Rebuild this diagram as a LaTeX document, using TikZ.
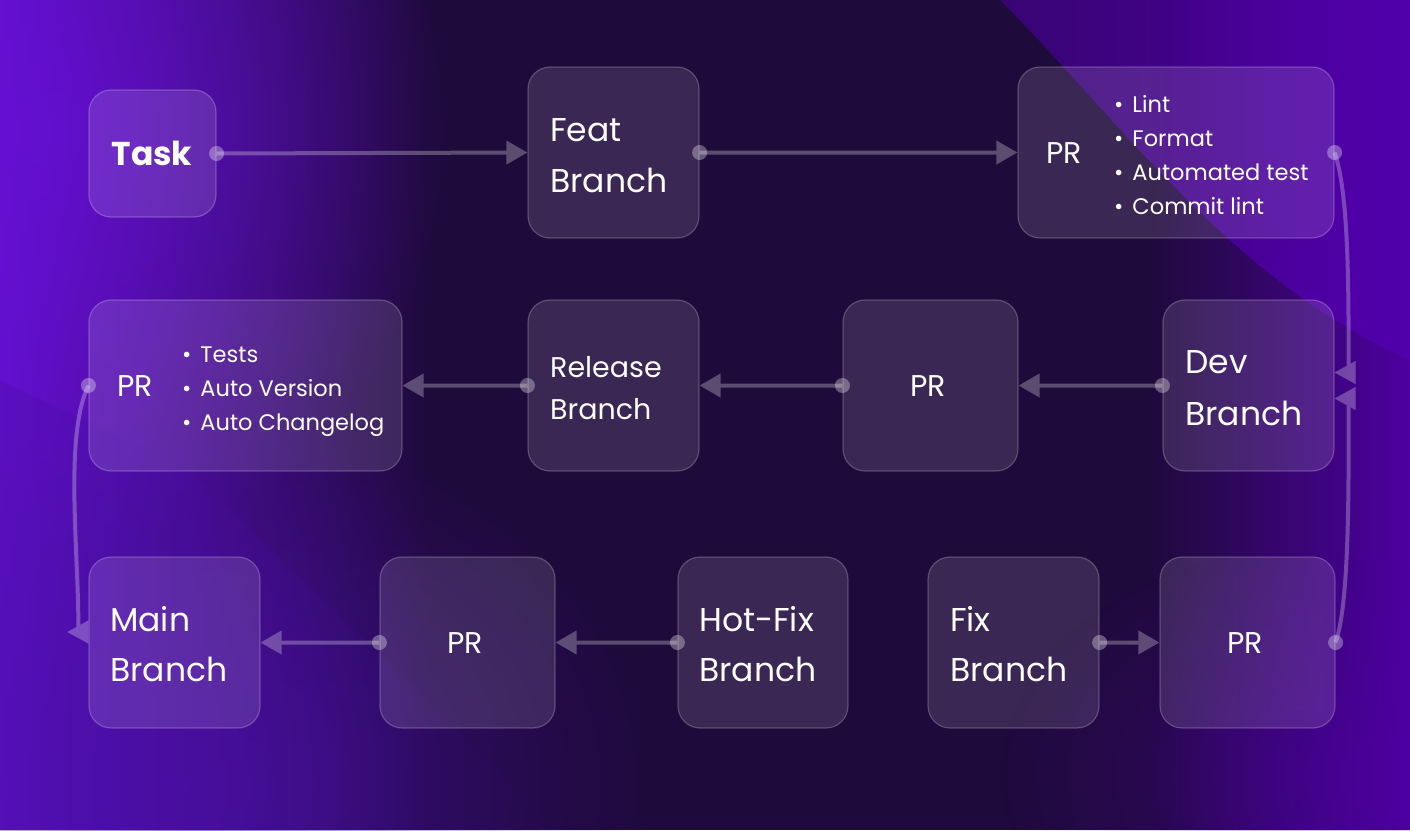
\documentclass[tikz,border=0pt]{standalone}
\usepackage{fontspec}
\setmainfont{Poppins}
\usetikzlibrary{arrows.meta,fadings,calc}
\tikzfading[name=fadeR, left color=transparent!0, right color=transparent!100]
\tikzfading[name=fadeL, left color=transparent!100, right color=transparent!0]
\tikzfading[name=glow, inner color=transparent!0, outer color=transparent!100]
\definecolor{bgbase}{HTML}{1F0A3C}
\definecolor{leftglow}{HTML}{6A10DC}
\definecolor{trglow}{HTML}{5200AC}
\definecolor{botglow}{HTML}{4A10A8}
\tikzset{
  box/.style={draw=white, draw opacity=0.22, fill=white, fill opacity=0.12,
    rounded corners=22pt, line width=1.2pt, inner sep=0pt},
  sq/.style={box, minimum width=171pt, minimum height=171pt},
  conn/.style={line width=4pt, white, -{Triangle[length=21pt,width=23pt]}},
  cline/.style={line width=4pt, white},
  tipl/.style={line width=0.1pt, white, -{Triangle[length=21pt,width=23pt]}},
  dotc/.style={white, opacity=0.32},
  big/.style={text=white, inner sep=0pt, anchor=base west, font=\fontsize{33}{40}\selectfont},
  mid/.style={text=white, inner sep=0pt, anchor=base west, font=\fontsize{28.5}{34}\selectfont},
  prl/.style={text=white, inner sep=0pt, font=\fontsize{30}{36}\selectfont},
  bul/.style={text=white, inner sep=0pt, anchor=base west, font=\fontsize{22.5}{26}\selectfont},
}
\newcommand{\bl}[1]{\textbullet\hspace{9pt}#1}
\begin{document}
\begin{tikzpicture}[x=1pt,y=-1pt]
\useasboundingbox (0,0) rectangle (1410,830);
% background
\fill[bgbase] (0,0) rectangle (1410,830);
\fill[leftglow, opacity=0.9, path fading=fadeR] (0,0) rectangle (430,830);
\fill[leftglow, opacity=0.55, path fading=glow] (-350,-300) rectangle (450,560);
\fill[botglow, opacity=0.6, path fading=glow] (-250,420) rectangle (650,1150);
\fill[botglow, opacity=0.35, path fading=fadeR] (0,380) -- (190,470) -- (560,830) -- (0,830) -- cycle;
\fill[trglow, opacity=0.75, path fading=fadeL] (1000,0) .. controls (1120,120) and (1230,280) .. (1410,360) -- (1410,0) -- cycle;
\fill[trglow, opacity=0.5] (1000,0) .. controls (1120,120) and (1230,280) .. (1410,360) -- (1410,0) -- cycle;
\fill[trglow, opacity=0.9, path fading=fadeL] (1150,0) rectangle (1410,830);
\fill[trglow, opacity=0.35, path fading=glow] (1000,550) rectangle (1600,1000);

% boxes
\node[box, minimum width=127pt, minimum height=127pt] (task) at (152.5,153.5) {};
\node[sq] (feat) at (613.5,152.5) {};
\node[box, minimum width=316pt, minimum height=171pt] (pra) at (1176,152.5) {};
\node[sq] (dev) at (1248.5,385.5) {};
\node[box, minimum width=175pt, minimum height=171pt] (prb) at (930.5,385.5) {};
\node[sq] (rel) at (613.5,385.5) {};
\node[box, minimum width=313pt, minimum height=171pt] (prc) at (245.5,385.5) {};
\node[sq] (mainb) at (174.5,642.5) {};
\node[box, minimum width=175pt, minimum height=171pt] (prd) at (467.5,642.5) {};
\node[box, minimum width=170pt, minimum height=171pt] (hot) at (763,642.5) {};
\node[sq] (fix) at (1013.5,642.5) {};
\node[box, minimum width=175pt, minimum height=171pt] (pre) at (1247.5,642.5) {};

% texts
\node[text=white, inner sep=0pt, font=\fontsize{33}{38}\selectfont\bfseries] (ttask) at (152,153) {Task};
\node[big] (tfeat1) at (550,141) {Feat};
\node[big] (tfeat2) at (550,192) {Branch};
\node[big] (tdev1) at (1185,373) {Dev};
\node[big] (tdev2) at (1185,425) {Branch};
\node[mid] (trel1) at (550,377) {Release};
\node[mid] (trel2) at (550,419) {Branch};
\node[big] (tmain1) at (110,631) {Main};
\node[big] (tmain2) at (110,681) {Branch};
\node[big] (thot1) at (699,631) {Hot-Fix};
\node[big] (thot2) at (699,681) {Branch};
\node[big] (tfix1) at (950,631) {Fix};
\node[big] (tfix2) at (950,681) {Branch};
\node[prl] (tpra) at (1064,153) {PR};
\node[prl] (tprb) at (928,386) {PR};
\node[prl] (tprc) at (135,386) {PR};
\node[prl] (tprd) at (465,643) {PR};
\node[prl] (tpre) at (1245,643) {PR};
\node[bul] (la1) at (1114,112) {\bl{Lint}};
\node[bul] (la2) at (1114,146) {\bl{Format}};
\node[bul] (la3) at (1114,180) {\bl{Automated test}};
\node[bul] (la4) at (1114,214) {\bl{Commit lint}};
\node[bul] (lc1) at (182,362) {\bl{Tests}};
\node[bul] (lc2) at (182,396) {\bl{Auto Version}};
\node[bul] (lc3) at (182,430) {\bl{Auto Changelog}};

% connectors
\coordinate (dA1) at ($(dev.east)+(14,-20)$);
\coordinate (dA2) at ($(dev.east)+(21,-13)$);
\coordinate (dA3) at ($(dev.east)+(0,-13)$);
\coordinate (dB1) at ($(dev.east)+(14,20)$);
\coordinate (dB2) at ($(dev.east)+(21,13)$);
\coordinate (dB3) at ($(dev.east)+(0,13)$);
\coordinate (mC1) at ($(mainb.west)+(-10,-15)$);
\coordinate (mC2) at ($(mainb.west)+(0,-10.5)$);
\coordinate (mC3) at ($(mainb.west)+(-21,-10.5)$);
\begin{scope}[transparency group, opacity=0.27]
\draw[conn] (task.east) -- (feat.west);
\draw[conn] (feat.east) -- (pra.west);
\draw[conn] (dev.west) -- (prb.east);
\draw[conn] (prb.west) -- (rel.east);
\draw[conn] (rel.west) -- (prc.east);
\draw[conn] (fix.east) -- (pre.west);
\draw[conn] (hot.west) -- (prd.east);
\draw[conn] (prd.west) -- (mainb.east);
\draw[cline] (pra.east) .. controls +(14,40) and +(0,-80) .. (dA1);
\draw[tipl] (dA2) -- (dA3);
\draw[cline] (pre.east) .. controls +(14,-40) and +(0,80) .. (dB1);
\draw[tipl] (dB2) -- (dB3);
\draw[cline] (prc.west) .. controls +(-24,50) and +(0,-80) .. (mC1);
\draw[tipl] (mC2) -- (mC3);
\end{scope}

% dots
\foreach \p in {task.east, feat.east, pra.east, dev.west, prb.west, rel.west, prc.west, fix.east, hot.west, prd.west, pre.east}
  \fill[dotc] (\p) circle (7.5pt);
\end{tikzpicture}
\end{document}
